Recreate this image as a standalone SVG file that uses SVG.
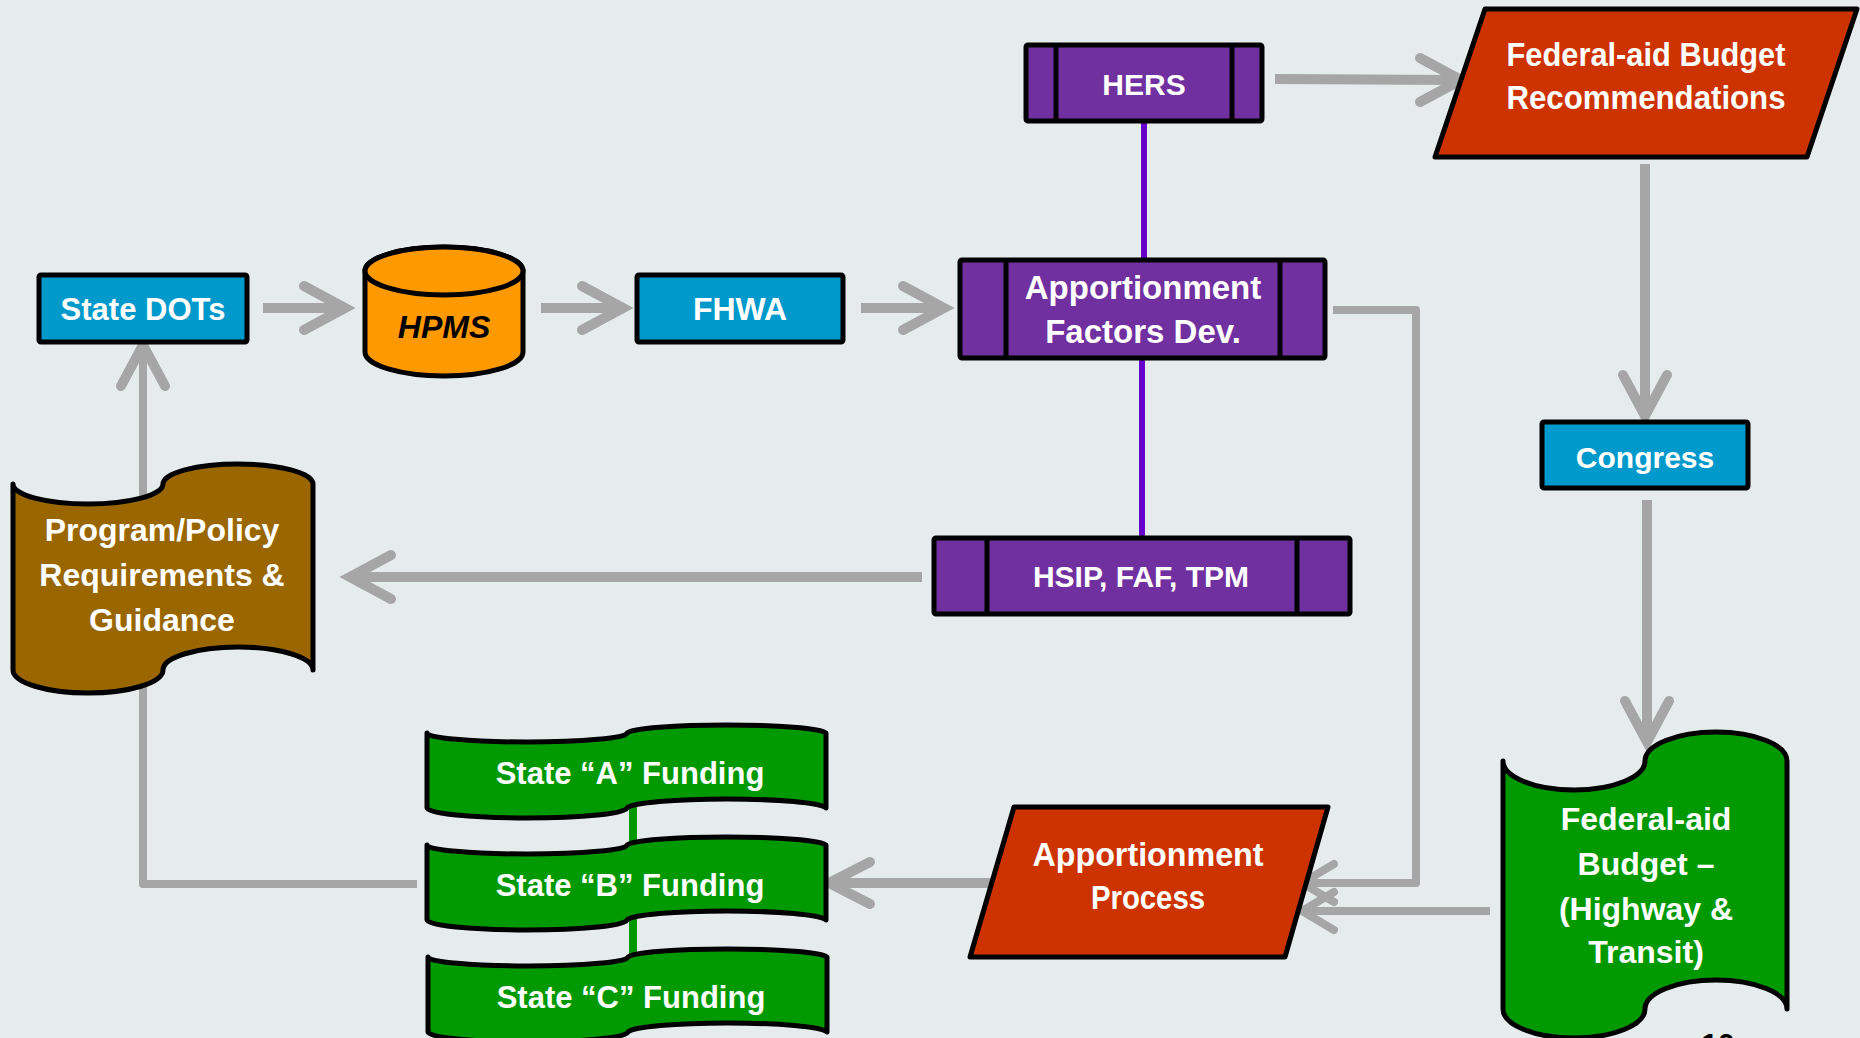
<svg xmlns="http://www.w3.org/2000/svg" width="1860" height="1038" viewBox="0 0 1860 1038">
<style>
.t{font-family:"Liberation Sans",Arial,sans-serif;font-weight:bold;fill:#FFFFFF;text-anchor:middle}
.k{stroke:#000000;stroke-width:5;stroke-linejoin:round}
.blue{fill:#0099CC}
.purple{fill:#7030A0}
.red{fill:#CC3300}
.green{fill:#009900}
.brown{fill:#996600}
.orange{fill:#FF9900}
.div{stroke:#000000;stroke-width:5}
.c{fill:none;stroke:#A6A6A6;stroke-width:10}
.c8{fill:none;stroke:#A6A6A6;stroke-width:8;stroke-linejoin:round}
.h{fill:none;stroke:#A6A6A6;stroke-width:10;stroke-linecap:round;stroke-linejoin:miter}
.v{stroke:#6600CC;stroke-width:6}
.g{stroke:#009900;stroke-width:8}
</style>
<rect x="0" y="0" width="1860" height="1038" fill="#E6ECEC"/>

<g id="connectors">
  <!-- purple links -->
  <line class="v" x1="1144" y1="118" x2="1144" y2="262"/>
  <line class="v" x1="1142" y1="356" x2="1142" y2="540"/>
  <!-- green links -->
  <line class="g" x1="633" y1="805" x2="633" y2="855"/>
  <line class="g" x1="633" y1="917" x2="633" y2="967"/>
  <!-- State DOTs -> HPMS -->
  <line class="c" x1="263" y1="308" x2="340" y2="308"/>
  <polyline class="h" points="304,286 345,308 304,330"/>
  <!-- HPMS -> FHWA -->
  <line class="c" x1="541" y1="308" x2="618" y2="308"/>
  <polyline class="h" points="582,286 623,308 582,330"/>
  <!-- FHWA -> Apportionment Factors -->
  <line class="c" x1="861" y1="308" x2="939" y2="308"/>
  <polyline class="h" points="903,286 944,308 903,330"/>
  <!-- HERS -> Federal-aid Budget Recommendations -->
  <line class="c" x1="1275" y1="79" x2="1456" y2="80"/>
  <polyline class="h" points="1420,58 1461,80 1420,102"/>
  <!-- Recommendations -> Congress -->
  <line class="c" x1="1645" y1="164" x2="1645" y2="411"/>
  <polyline class="h" points="1623,375 1645,416 1667,375"/>
  <!-- Congress -> Budget -->
  <line class="c" x1="1647" y1="500" x2="1647" y2="737"/>
  <polyline class="h" points="1625,701 1647,742 1669,701"/>
  <!-- HSIP -> Program/Policy -->
  <line class="c" x1="922" y1="577" x2="355" y2="577"/>
  <polyline class="h" points="391,555 350,577 391,599"/>
  <!-- State B -> Program/Policy -> State DOTs -->
  <path class="c8" d="M417,884 H143 V350"/>
  <polyline class="h" points="121,386 143,345 165,386"/>
  <!-- Apportionment Factors -> Apportionment Process -->
  <path class="c8" d="M1333,310 H1416 V883 H1306"/>
  <polyline class="h" style="stroke-width:8" points="1334,864 1302,883 1334,902"/>
  <!-- Budget -> Apportionment Process -->
  <line class="c8" x1="1490" y1="911" x2="1306" y2="911"/>
  <polyline class="h" style="stroke-width:8" points="1334,892 1302,911 1334,930"/>
  <!-- Apportionment Process -> State B -->
  <line class="c" x1="996" y1="883" x2="834" y2="883"/>
  <polyline class="h" points="870,862 829,883 870,904"/>
</g>

<g id="state-dots">
  <rect class="blue k" x="39" y="275" width="208" height="67" rx="2"/>
  <text class="t" x="143" y="320" font-size="31">State DOTs</text>
</g>

<g id="hpms">
  <path class="orange k" d="M365,271 V352 A79,24 0 0 0 523,352 V271 A79,24 0 0 0 365,271 Z"/>
  <ellipse class="k" cx="444" cy="271" rx="79" ry="24" fill="#FF9900"/>
  <text class="t" x="444" y="338" font-size="32" font-style="italic" style="fill:#000000">HPMS</text>
</g>

<g id="fhwa">
  <rect class="blue k" x="637" y="275" width="206" height="67" rx="2"/>
  <text class="t" x="740" y="320" font-size="32">FHWA</text>
</g>

<g id="hers">
  <rect class="purple k" x="1026" y="45" width="236" height="76" rx="2"/>
  <line class="div" x1="1056" y1="45" x2="1056" y2="121"/>
  <line class="div" x1="1232" y1="45" x2="1232" y2="121"/>
  <text class="t" x="1144" y="95" font-size="30">HERS</text>
</g>

<g id="apportionment-factors">
  <rect class="purple k" x="960" y="260" width="365" height="98" rx="2"/>
  <line class="div" x1="1006" y1="260" x2="1006" y2="358"/>
  <line class="div" x1="1280" y1="260" x2="1280" y2="358"/>
  <text class="t" x="1143" y="299" font-size="33">Apportionment</text>
  <text class="t" x="1143" y="343" font-size="33">Factors Dev.</text>
</g>

<g id="hsip">
  <rect class="purple k" x="934" y="538" width="416" height="76" rx="2"/>
  <line class="div" x1="987" y1="538" x2="987" y2="614"/>
  <line class="div" x1="1297" y1="538" x2="1297" y2="614"/>
  <text class="t" x="1141" y="587" font-size="30">HSIP, FAF, TPM</text>
</g>

<g id="budget-recommendations">
  <polygon class="red k" points="1485,9 1857,9 1807,157 1435,157"/>
  <text class="t" x="1646" y="66" font-size="33" textLength="279" lengthAdjust="spacingAndGlyphs">Federal-aid Budget</text>
  <text class="t" x="1646" y="109" font-size="33" textLength="279" lengthAdjust="spacingAndGlyphs">Recommendations</text>
</g>

<g id="congress">
  <rect class="blue k" x="1542" y="422" width="206" height="66" rx="2"/>
  <text class="t" x="1645" y="468" font-size="30">Congress</text>
</g>

<g id="budget">
  <path class="green k" d="M1503,761 A71,29 0 0 0 1645,761 A71,29 0 0 1 1787,761 L1787,1009 A71,29 0 0 0 1645,1009 A71,29 0 0 1 1503,1009 Z"/>
  <text class="t" x="1646" y="830" font-size="32">Federal-aid</text>
  <text class="t" x="1646" y="875" font-size="32">Budget –</text>
  <text class="t" x="1646" y="920" font-size="32">(Highway &amp;</text>
  <text class="t" x="1646" y="963" font-size="32">Transit)</text>
</g>

<g id="apportionment-process">
  <polygon class="red k" points="1014,807 1328,807 1285,957 970,957"/>
  <text class="t" x="1148" y="866" font-size="33" textLength="231" lengthAdjust="spacingAndGlyphs">Apportionment</text>
  <text class="t" x="1148" y="909" font-size="33" textLength="114" lengthAdjust="spacingAndGlyphs">Process</text>
</g>

<g id="program-policy">
  <path class="brown k" d="M13,484 A75,20 0 0 0 163,484 A75,20 0 0 1 313,484 L313,670 A75,23 0 0 0 163,670 A75,23 0 0 1 13,670 Z"/>
  <text class="t" x="162" y="541" font-size="32">Program/Policy</text>
  <text class="t" x="162" y="586" font-size="32">Requirements &amp;</text>
  <text class="t" x="162" y="631" font-size="32">Guidance</text>
</g>

<g id="state-a">
  <path class="green k" d="M427,733 A100,9 0 0 0 627,733 A100,9 0 0 1 826,733 L826,808 A100,10 0 0 0 627,808 A100,10 0 0 1 427,808 Z"/>
  <text class="t" x="630" y="784" font-size="31">State “A” Funding</text>
</g>

<g id="state-b">
  <path class="green k" d="M427,845 A100,9 0 0 0 627,845 A100,9 0 0 1 826,845 L826,920 A100,10 0 0 0 627,920 A100,10 0 0 1 427,920 Z"/>
  <text class="t" x="630" y="896" font-size="31">State “B” Funding</text>
</g>

<g id="state-c">
  <path class="green k" d="M428,957 A100,9 0 0 0 628,957 A100,9 0 0 1 827,957 L827,1032 A100,10 0 0 0 628,1032 A100,10 0 0 1 428,1032 Z"/>
  <text class="t" x="631" y="1008" font-size="31">State “C” Funding</text>
</g>

<text class="t" x="1718" y="1054" font-size="30" style="fill:#000000">10</text>
</svg>
